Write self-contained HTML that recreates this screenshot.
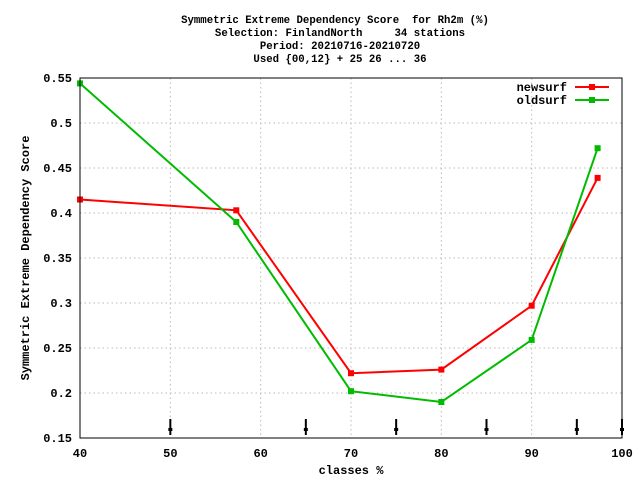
<!DOCTYPE html>
<html><head><meta charset="utf-8"><style>
body{margin:0;background:#fff}
svg text{font-family:"Liberation Mono",monospace;font-size:12px;font-weight:bold;fill:#000}
svg text.t{font-size:10.7px}
</style></head><body>
<svg id="c" width="640" height="480" xmlns="http://www.w3.org/2000/svg">
<text class="t" x="335" y="23" text-anchor="middle" xml:space="preserve">Symmetric Extreme Dependency Score  for Rh2m (%)</text>
<text class="t" x="340" y="36" text-anchor="middle" xml:space="preserve">Selection: FinlandNorth     34 stations</text>
<text class="t" x="340" y="49" text-anchor="middle">Period: 20210716-20210720</text>
<text class="t" x="340" y="62" text-anchor="middle">Used {00,12} + 25 26 ... 36</text>
<text x="351" y="474" text-anchor="middle">classes %</text>
<text transform="translate(29,258) rotate(-90)" text-anchor="middle">Symmetric Extreme Dependency Score</text>
<g id="grid"></g><g id="ticks"></g><g id="series"></g>
<rect x="80" y="78" width="542" height="360" fill="none" stroke="#000" stroke-width="1"/>
<g>
<text x="567" y="91" text-anchor="end">newsurf</text>
<line x1="575" y1="87" x2="609" y2="87" stroke="#f00" stroke-width="2"/><rect x="589" y="84" width="6" height="6" fill="#f00"/>
<text x="567" y="104" text-anchor="end">oldsurf</text>
<line x1="575" y1="100" x2="609" y2="100" stroke="#0b0" stroke-width="2"/><rect x="589" y="97" width="6" height="6" fill="#0b0"/>
</g>
</svg>
<script>
const xTicks=[40,50,60,70,80,90,100];
const yTicks=[0.15,0.2,0.25,0.3,0.35,0.4,0.45,0.5,0.55];
const yLabels=["0.15","0.2","0.25","0.3","0.35","0.4","0.45","0.5","0.55"];
const classes=[40,57.3,70,80,90,97.3];
const newsurf=[0.415,0.403,0.222,0.226,0.297,0.439];
const oldsurf=[0.544,0.390,0.202,0.190,0.259,0.472];
const arrows=[50,65,75,85,95,100];
const NS="http://www.w3.org/2000/svg";
const X=v=>80+(v-40)/60*542;
const Y=v=>438-(v-0.15)/0.4*360;
function mk(t,a,p){const e=document.createElementNS(NS,t);for(const k in a)e.setAttribute(k,a[k]);p.appendChild(e);return e;}
const g=document.getElementById('grid'),tk=document.getElementById('ticks'),s=document.getElementById('series');
xTicks.forEach(v=>{
 if(v>40&&v<100){const l=mk('line',{x1:X(v),x2:X(v),y1:78,y2:438,stroke:'#bbb','stroke-dasharray':'1.5,3'},g);
 
 }
 const t=mk('text',{x:X(v),y:457,'text-anchor':'middle'},tk);t.textContent=v;
 
 
});
yTicks.forEach((v,i)=>{
 if(i>0&&i<yTicks.length-1){const l=mk('line',{x1:80,x2:622,y1:Y(v),y2:Y(v),stroke:'#bbb','stroke-dasharray':'1.5,3'},g);
 
 }
 const t=mk('text',{x:72,y:Y(v)+4,'text-anchor':'end'},tk);t.textContent=yLabels[i];
 
 
});
arrows.forEach(v=>{
 const a=mk('g',{},tk);
 
 
 mk('line',{x1:X(v),x2:X(v),y1:419,y2:435,stroke:'#000','stroke-width':2},a);
 mk('rect',{x:X(v)-2,y:428,width:4,height:3,fill:'#000'},a);
});
function series(vals,col,name){
 const grp=mk('g',{},s);
 
 
 mk('polyline',{points:classes.map((c,i)=>X(c)+','+Y(vals[i])).join(' '),fill:'none',stroke:col,'stroke-width':2},grp);
 classes.forEach((c,i)=>{const r=mk('rect',{x:X(c)-3,y:Y(vals[i])-3,width:6,height:6,fill:col},grp);
 
 });
}
series(newsurf,'#f00','newsurf-series');
series(oldsurf,'#0b0','oldsurf-series');
</script>
</body></html>
